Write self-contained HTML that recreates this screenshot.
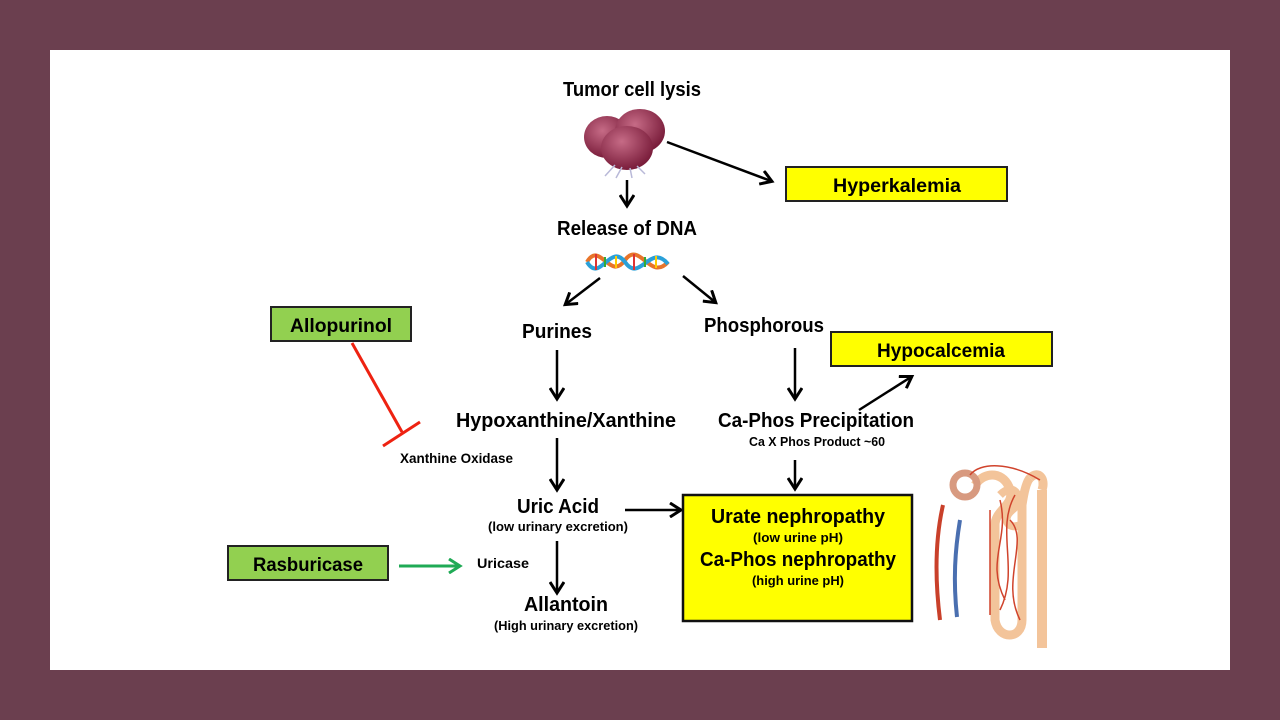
<!DOCTYPE html>
<html><head><meta charset="utf-8"><style>
html,body{margin:0;padding:0;background:#6b3f4f;}
svg{display:block;}
text{font-family:"Liberation Sans",sans-serif;font-weight:bold;fill:#000;}
</style></head><body>
<svg width="1280" height="720" viewBox="0 0 1280 720" xmlns="http://www.w3.org/2000/svg">
<defs>
<marker id="ab" markerWidth="16" markerHeight="16" refX="12" refY="8" orient="auto" markerUnits="userSpaceOnUse">
<path d="M2,1 L13,8 L2,15" fill="none" stroke="#000" stroke-width="3"/></marker>
<marker id="ag" markerWidth="16" markerHeight="16" refX="12" refY="8" orient="auto" markerUnits="userSpaceOnUse">
<path d="M2,1 L13,8 L2,15" fill="none" stroke="#1faa55" stroke-width="3"/></marker>
<radialGradient id="cg" cx="40%" cy="35%" r="65%"><stop offset="0" stop-color="#c66b86"/><stop offset="1" stop-color="#7a1d3b"/></radialGradient>
</defs>
<rect x="0" y="0" width="1280" height="720" fill="#6b3f4f"/>
<rect x="50" y="50" width="1180" height="620" fill="#fff"/>

<!-- cells -->
<ellipse cx="607" cy="137" rx="23" ry="21" fill="url(#cg)"/>
<ellipse cx="640" cy="131" rx="25" ry="22" fill="url(#cg)"/>
<ellipse cx="627" cy="148" rx="26" ry="22" fill="url(#cg)"/>
<g stroke="#b9b9d8" stroke-width="1.5"><line x1="615" y1="165" x2="605" y2="176"/><line x1="622" y1="167" x2="616" y2="178"/><line x1="630" y1="168" x2="632" y2="178"/><line x1="637" y1="166" x2="645" y2="174"/></g>

<g lengthAdjust="spacingAndGlyphs">
<text x="632" y="96" font-size="20" text-anchor="middle" textLength="138" lengthAdjust="spacingAndGlyphs">Tumor cell lysis</text>
</g>
<line x1="627" y1="180" x2="627" y2="205" stroke="#000" stroke-width="2.5" marker-end="url(#ab)"/>
<line x1="667" y1="142" x2="771" y2="181" stroke="#000" stroke-width="2.5" marker-end="url(#ab)"/>
<rect x="786" y="167" width="221" height="34" fill="#ffff00" stroke="#222" stroke-width="2"/>
<text x="897" y="192" font-size="19" text-anchor="middle" textLength="128" lengthAdjust="spacingAndGlyphs">Hyperkalemia</text>

<text x="627" y="235" font-size="20" text-anchor="middle" textLength="140" lengthAdjust="spacingAndGlyphs">Release of DNA</text>
<!-- DNA -->
<path d="M587,262 C600,240 610,282 625,260 C640,240 650,282 668,262" fill="none" stroke="#e8742a" stroke-width="4"/>
<path d="M587,262 C600,284 610,242 625,262 C640,284 650,242 668,264" fill="none" stroke="#2aa0d8" stroke-width="4"/>
<g stroke-width="2"><line x1="596" y1="254" x2="596" y2="270" stroke="#d33"/><line x1="605" y1="257" x2="605" y2="267" stroke="#3a3"/><line x1="616" y1="256" x2="616" y2="268" stroke="#fc0"/><line x1="634" y1="254" x2="634" y2="270" stroke="#d33"/><line x1="645" y1="257" x2="645" y2="267" stroke="#3a3"/><line x1="656" y1="256" x2="656" y2="268" stroke="#fc0"/></g>

<line x1="600" y1="278" x2="566" y2="304" stroke="#000" stroke-width="2.5" marker-end="url(#ab)"/>
<line x1="683" y1="276" x2="715" y2="302" stroke="#000" stroke-width="2.5" marker-end="url(#ab)"/>
<text x="557" y="338" font-size="20" text-anchor="middle" textLength="70" lengthAdjust="spacingAndGlyphs">Purines</text>
<text x="764" y="332" font-size="20" text-anchor="middle" textLength="120" lengthAdjust="spacingAndGlyphs">Phosphorous</text>

<rect x="271" y="307" width="140" height="34" fill="#92d050" stroke="#222" stroke-width="2"/>
<text x="341" y="332" font-size="19" text-anchor="middle" textLength="102" lengthAdjust="spacingAndGlyphs">Allopurinol</text>
<line x1="352" y1="343" x2="402" y2="432" stroke="#e21" stroke-width="3"/>
<line x1="383" y1="446" x2="420" y2="422" stroke="#e21" stroke-width="3"/>
<text x="400" y="463" font-size="14" textLength="113" lengthAdjust="spacingAndGlyphs">Xanthine Oxidase</text>

<line x1="557" y1="350" x2="557" y2="398" stroke="#000" stroke-width="2.5" marker-end="url(#ab)"/>
<text x="566" y="427" font-size="20" text-anchor="middle" textLength="220" lengthAdjust="spacingAndGlyphs">Hypoxanthine/Xanthine</text>
<line x1="557" y1="438" x2="557" y2="489" stroke="#000" stroke-width="2.5" marker-end="url(#ab)"/>
<text x="558" y="513" font-size="20" text-anchor="middle" textLength="82" lengthAdjust="spacingAndGlyphs">Uric Acid</text>
<text x="558" y="531" font-size="13" text-anchor="middle" textLength="140" lengthAdjust="spacingAndGlyphs">(low urinary excretion)</text>
<line x1="625" y1="510" x2="680" y2="510" stroke="#000" stroke-width="2.5" marker-end="url(#ab)"/>
<line x1="557" y1="541" x2="557" y2="592" stroke="#000" stroke-width="2.5" marker-end="url(#ab)"/>
<text x="566" y="611" font-size="20" text-anchor="middle" textLength="84" lengthAdjust="spacingAndGlyphs">Allantoin</text>
<text x="566" y="630" font-size="13" text-anchor="middle" textLength="144" lengthAdjust="spacingAndGlyphs">(High urinary excretion)</text>

<rect x="228" y="546" width="160" height="34" fill="#92d050" stroke="#222" stroke-width="2"/>
<text x="308" y="571" font-size="19" text-anchor="middle" textLength="110" lengthAdjust="spacingAndGlyphs">Rasburicase</text>
<line x1="399" y1="566" x2="459" y2="566" stroke="#1faa55" stroke-width="3" marker-end="url(#ag)"/>
<text x="477" y="568" font-size="14" textLength="52" lengthAdjust="spacingAndGlyphs">Uricase</text>

<line x1="795" y1="348" x2="795" y2="398" stroke="#000" stroke-width="2.5" marker-end="url(#ab)"/>
<text x="816" y="427" font-size="20" text-anchor="middle" textLength="196" lengthAdjust="spacingAndGlyphs">Ca-Phos Precipitation</text>
<text x="817" y="446" font-size="13" text-anchor="middle" textLength="136" lengthAdjust="spacingAndGlyphs">Ca X Phos Product ~60</text>
<line x1="859" y1="410" x2="911" y2="377" stroke="#000" stroke-width="2.5" marker-end="url(#ab)"/>
<rect x="831" y="332" width="221" height="34" fill="#ffff00" stroke="#222" stroke-width="2"/>
<text x="941" y="357" font-size="19" text-anchor="middle" textLength="128" lengthAdjust="spacingAndGlyphs">Hypocalcemia</text>
<line x1="795" y1="460" x2="795" y2="488" stroke="#000" stroke-width="2.5" marker-end="url(#ab)"/>

<rect x="683" y="495" width="229" height="126" fill="#ffff00" stroke="#111" stroke-width="2.5"/>
<text x="798" y="523" font-size="20" text-anchor="middle" textLength="174" lengthAdjust="spacingAndGlyphs">Urate nephropathy</text>
<text x="798" y="542" font-size="13" text-anchor="middle" textLength="90" lengthAdjust="spacingAndGlyphs">(low urine pH)</text>
<text x="798" y="566" font-size="20" text-anchor="middle" textLength="196" lengthAdjust="spacingAndGlyphs">Ca-Phos nephropathy</text>
<text x="798" y="585" font-size="13" text-anchor="middle" textLength="92" lengthAdjust="spacingAndGlyphs">(high urine pH)</text>

<!-- nephron -->
<g fill="none">
<path d="M943,505 C935,540 935,580 940,620" stroke="#c9402a" stroke-width="4"/>
<path d="M960,520 C955,550 953,580 957,617" stroke="#4a6fb0" stroke-width="4"/>
<path d="M1042,490 L1042,648" stroke="#f3c49a" stroke-width="10"/>
<path d="M1030,478 C1038,470 1046,478 1042,490" stroke="#f3c49a" stroke-width="9"/>
<path d="M975,485 C985,470 1005,472 1010,490 C1015,505 995,510 995,525 L995,620 C998,640 1022,640 1022,620 L1022,505 C1025,485 1028,480 1030,478" stroke="#f3c49a" stroke-width="9"/>
<path d="M1000,495 C1015,480 1025,500 1012,510 C1000,520 1010,530 1020,525" stroke="#f3c49a" stroke-width="8"/>
<circle cx="965" cy="485" r="12" stroke="#d89a80" stroke-width="7"/>
<path d="M970,475 C980,462 1010,462 1040,480 M990,510 L990,615 M1000,500 C1010,540 985,560 1005,600 M1015,495 C995,530 1020,570 1000,610 M1010,520 C1030,540 1000,580 1020,620" stroke="#d0432c" stroke-width="1.5"/>
</g>
</svg>
</body></html>
